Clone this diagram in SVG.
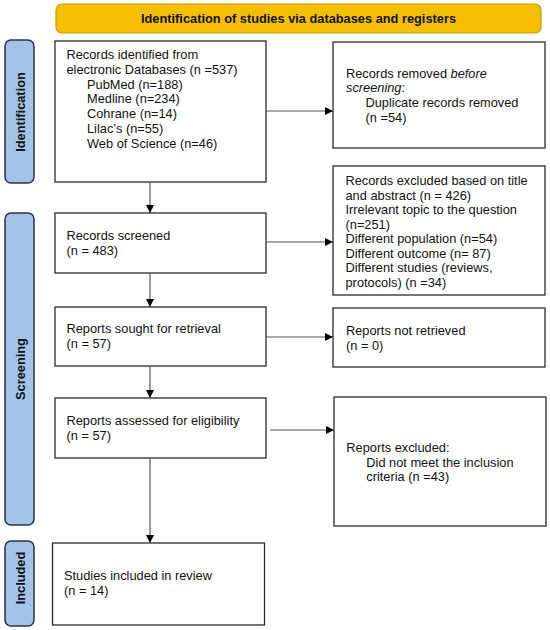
<svg xmlns="http://www.w3.org/2000/svg" width="550" height="630" viewBox="0 0 550 630">
<defs>
<style>
text{font-family:"Liberation Sans",Arial,sans-serif;font-size:12.8px;fill:#111}
.b{font-weight:bold}
.box{fill:#fff;stroke:#2b2b2b;stroke-width:1.3}
.side{fill:#a3c3e8;stroke:#27344a;stroke-width:1.5}
.con{stroke:#555;stroke-width:1.2;fill:none;marker-end:url(#ah)}
</style>
<marker id="ah" viewBox="0 0 10 10" refX="10" refY="5" markerWidth="8" markerHeight="8" markerUnits="userSpaceOnUse" orient="auto">
<path d="M0,0 L10,5 L0,10 z" fill="#000"/>
</marker>
</defs>
<rect width="550" height="630" fill="#fff"/>

<g id="banner">
<rect x="56" y="4" width="485" height="29" rx="6" fill="#f5bf00" stroke="#c99a00" stroke-width="1.2"/>
<text class="b" x="298.5" y="23" text-anchor="middle">Identification of studies via databases and registers</text>
</g>

<g id="side-identification">
<rect class="side" x="5" y="40" width="29" height="143" rx="6"/>
<text class="b" transform="translate(24.5,112) rotate(-90)" text-anchor="middle">Identification</text>
</g>
<g id="side-screening">
<rect class="side" x="5" y="213" width="29" height="312" rx="6"/>
<text class="b" transform="translate(24.5,369) rotate(-90)" text-anchor="middle">Screening</text>
</g>
<g id="side-included">
<rect class="side" x="5" y="541" width="29" height="85" rx="6"/>
<text class="b" transform="translate(24.5,578) rotate(-90)" text-anchor="middle">Included</text>
</g>

<g id="records-identified">
<rect class="box" x="55" y="41" width="211" height="141"/>
<text x="66.5" y="59">Records identified from</text>
<text x="66.5" y="73.8">electronic Databases (n =537)</text>
<text x="87" y="88.6">PubMed (n=188)</text>
<text x="87" y="103.4">Medline (n=234)</text>
<text x="87" y="118.2">Cohrane (n=14)</text>
<text x="87" y="133">Lilac’s (n=55)</text>
<text x="87" y="147.8">Web of Science (n=46)</text>
</g>

<g id="records-removed">
<rect class="box" x="333" y="42" width="212" height="106"/>
<text x="346" y="77.5">Records removed <tspan font-style="italic">before</tspan></text>
<text x="346" y="92"><tspan font-style="italic">screening</tspan>:</text>
<text x="365.5" y="106.5">Duplicate records removed</text>
<text x="365.5" y="121.5">(n =54)</text>
</g>

<g id="records-screened">
<rect class="box" x="55" y="213" width="211" height="60"/>
<text x="66.5" y="240">Records screened</text>
<text x="66.5" y="255">(n = 483)</text>
</g>

<g id="records-excluded">
<rect class="box" x="333" y="166" width="212" height="129"/>
<text x="345.5" y="185">Records excluded based on title</text>
<text x="345.5" y="199.5">and abstract (n = 426)</text>
<text x="345.5" y="214">Irrelevant topic to the question</text>
<text x="345.5" y="228.5">(n=251)</text>
<text x="345.5" y="243">Different population (n=54)</text>
<text x="345.5" y="257.5">Different outcome (n= 87)</text>
<text x="345.5" y="272">Different studies (reviews,</text>
<text x="345.5" y="286.5">protocols) (n =34)</text>
</g>

<g id="reports-sought">
<rect class="box" x="55" y="307" width="211" height="59"/>
<text x="66.5" y="333">Reports sought for retrieval</text>
<text x="66.5" y="348">(n = 57)</text>
</g>

<g id="reports-not-retrieved">
<rect class="box" x="333" y="308" width="212" height="59"/>
<text x="346" y="335">Reports not retrieved</text>
<text x="346" y="350">(n = 0)</text>
</g>

<g id="reports-assessed">
<rect class="box" x="55" y="398" width="211" height="60"/>
<text x="66.5" y="425">Reports assessed for eligibility</text>
<text x="66.5" y="440">(n = 57)</text>
</g>

<g id="reports-excluded">
<rect class="box" x="334" y="397" width="212" height="129"/>
<text x="346.3" y="452">Reports excluded:</text>
<text x="366.3" y="466.5">Did not meet the inclusion</text>
<text x="366.3" y="481">criteria (n =43)</text>
</g>

<g id="studies-included">
<rect class="box" x="52.5" y="543" width="212" height="82"/>
<text x="64" y="580">Studies included in review</text>
<text x="64" y="595">(n = 14)</text>
</g>

<g id="connectors">
<line class="con" x1="150" y1="182" x2="150" y2="213"/>
<line class="con" x1="150" y1="273" x2="150" y2="307"/>
<line class="con" x1="150" y1="366" x2="150" y2="398"/>
<line class="con" x1="150" y1="458" x2="150" y2="543"/>
<line class="con" x1="266" y1="111" x2="333" y2="111"/>
<line class="con" x1="266" y1="242" x2="333" y2="242"/>
<line class="con" x1="266" y1="337" x2="333" y2="337"/>
<line class="con" x1="270" y1="430" x2="334" y2="430"/>
</g>
</svg>
